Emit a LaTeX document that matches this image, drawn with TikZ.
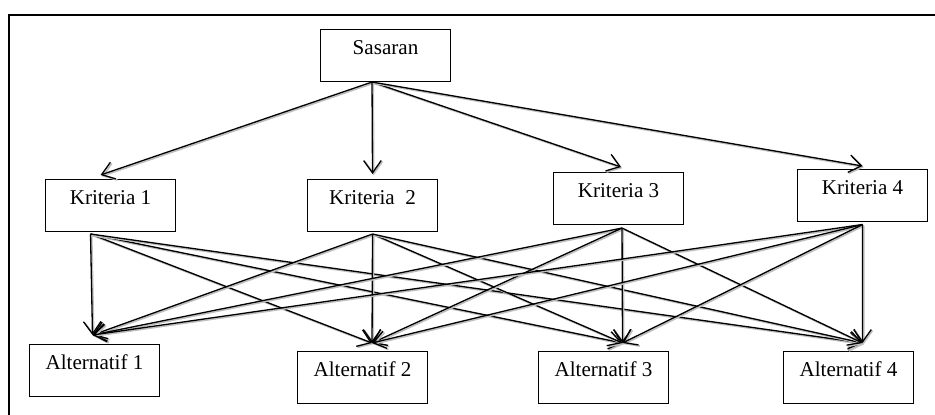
\documentclass[tikz,border=0pt]{standalone}
\usepackage{fontspec}
\setmainfont{Liberation Serif}
\usetikzlibrary{arrows.meta}
\tikzset{
  kotak/.style={draw, line width=0.6pt, anchor=north west, minimum width=2.6cm, inner xsep=0pt, inner ysep=0pt,
    text height=0.5cm, text depth=0.54cm, font=\fontsize{12}{14}\selectfont},
  panah/.style={line width=0.75pt, -{Straight Barb[length=7pt,width=10pt]},
    preaction={draw=gray!50, line width=0.9pt, transform canvas={xshift=0.7pt,yshift=-0.7pt}}}
}
\begin{document}
\begin{tikzpicture}[x=0.02cm, y=-0.02cm]
  \useasboundingbox (0,0) rectangle (935,415);
  \draw[line width=0.7pt] (9,415) -- (9,15) -- (935,15);
  \node[kotak] (sasaran) at (320,29) {Sasaran};
  \node[kotak] (k1) at (45,179) {Kriteria 1}; \node[kotak] (k2) at (307,179) {Kriteria\ \ 2};
  \node[kotak] (k3) at (553,172) {Kriteria 3}; \node[kotak] (k4) at (797,169) {Kriteria 4};
  \node[kotak] (a1) at (29,344) {Alternatif 1}; \node[kotak] (a2) at (297,351) {Alternatif 2};
  \node[kotak] (a3) at (538,351) {Alternatif 3}; \node[kotak] (a4) at (783,351) {Alternatif 4};
  \coordinate (sasaran-out) at ([xshift=-0.27cm]sasaran.south);
  \coordinate (k1-in) at ([xshift=-0.2cm,yshift=0.08cm]k1.north); \coordinate (k2-in) at ([yshift=0.1cm]k2.north);
  \coordinate (k3-in) at ([xshift=0.05cm,yshift=0.1cm]k3.north); \coordinate (k4-in) at ([yshift=0.06cm]k4.north);
  \coordinate (k1-out) at ([xshift=-0.4cm,yshift=-0.04cm]k1.south); \coordinate (k2-out) at ([yshift=-0.04cm]k2.south);
  \coordinate (k3-out) at ([xshift=0.07cm,yshift=-0.06cm]k3.south); \coordinate (k4-out) at ([yshift=-0.05cm]k4.south);
  \coordinate (a1-in) at ([xshift=-0.04cm,yshift=0.18cm]a1.north); \coordinate (a2-in) at ([xshift=0.19cm,yshift=0.16cm]a2.north);
  \coordinate (a3-in) at ([xshift=0.38cm,yshift=0.16cm]a3.north); \coordinate (a4-in) at ([xshift=0.28cm,yshift=0.16cm]a4.north);
  \foreach \i in {1,2,3,4} \draw[panah] (sasaran-out) -- (k\i-in);
  \foreach \i in {1,2,3,4} \foreach \j in {1,2,3,4} \draw[panah] (k\i-out) -- (a\j-in);
\end{tikzpicture}
\end{document}
